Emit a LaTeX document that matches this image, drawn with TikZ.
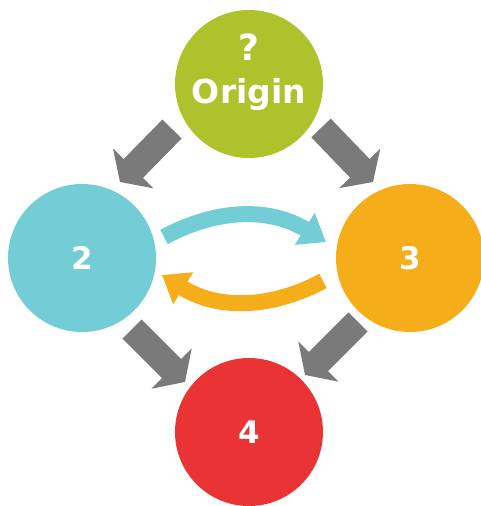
\documentclass[tikz,border=0pt]{standalone}
\usepackage{fontspec}
\setmainfont{DejaVu Sans}
\usetikzlibrary{arrows.meta}
\definecolor{cgreen}{HTML}{ADC22B}
\definecolor{ccyan}{HTML}{72CDD4}
\definecolor{corange}{HTML}{F6AD1A}
\definecolor{cred}{HTML}{E93334}
\definecolor{cgray}{HTML}{7A7A7A}
\begin{document}
\begin{tikzpicture}[x=1pt,y=1pt,
  ball/.style={circle,minimum size=148pt,inner sep=0pt,text=white,font=\fontsize{31}{36}\selectfont\bfseries},
  lbl/.style={text=white,font=\fontsize{33}{40}\selectfont\bfseries,anchor=base,inner sep=0pt},
  bigarrow/.style={draw=cgray,line width=27pt,-{Triangle[width=56pt,length=19pt]}},
  cycarrow/.style={line width=16pt,-{Triangle[width=36pt,length=25pt]}}]
\useasboundingbox (0,0) rectangle (480,-506);
\node[ball,fill=cgreen] (origin) at (249,-84) {};
\node[lbl,font=\fontsize{36}{40}\selectfont\bfseries] (q) at (249,-60) {?};
\node[lbl] (otext) at (249,-103) {Origin};
\node[ball,fill=ccyan] (left) at (82,-258) {2};
\node[ball,fill=corange] (right) at (410,-258) {3};
\node[ball,fill=cred] (bottom) at (249,-432) {4};
\draw[bigarrow] ([shift={(-77,-45)}]origin.center) -- ([shift={(38,76)}]left.center);
\draw[bigarrow] ([shift={(72,-44)}]origin.center) -- ([shift={(-37,76)}]right.center);
\draw[bigarrow] ([shift={(50,-71)}]left.center) -- ([shift={(-64,50)}]bottom.center);
\draw[bigarrow] ([shift={(-52,-64)}]right.center) -- ([shift={(56,57)}]bottom.center);
\draw[cycarrow,draw=ccyan] ([shift={(82,21)}]left.center) to[bend left=30] ([shift={(-84,16)}]right.center);
\draw[cycarrow,draw=corange] ([shift={(-87,-23)}]right.center) to[bend left=30] ([shift={(80,-17)}]left.center);
\end{tikzpicture}
\end{document}
